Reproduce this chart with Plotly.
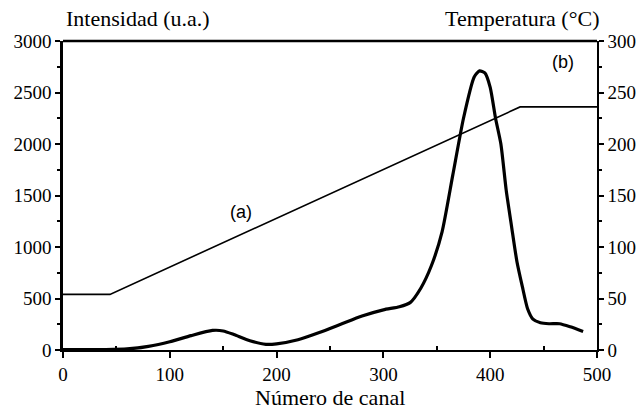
import plotly.graph_objects as go

# Intensity curve (channel number vs intensity, a.u.)
canal = [0, 20, 40, 60, 80, 100, 120, 140, 150, 160, 175, 190, 200, 220, 240, 260,
         280, 300, 315, 325, 335, 345, 355, 365, 375, 385, 390, 395, 400, 405, 410,
         415, 420, 425, 430, 435, 440, 447, 455, 465, 475, 487]
intensidad = [5, 5, 5, 10, 35, 80, 140, 190, 185, 150, 90, 55, 60, 100, 170, 250,
              330, 390, 420, 460, 600, 820, 1150, 1700, 2250, 2650, 2710, 2690, 2550, 2250, 2000,
              1550, 1200, 860, 620, 400, 300, 265, 255, 255, 225, 180]

# Temperature program (channel vs °C)
canal_temp = [0, 44, 428, 500]
temperatura = [54, 54, 236, 236]

# Annotation labels
etiquetas = ["(a)", "(b)"]
etiqueta_x = [167, 468]
etiqueta_y = [1340, 2800]

serif = "Liberation Serif"

fig = go.Figure()
fig.add_trace(go.Scatter(x=canal, y=intensidad, mode="lines",
                         line=dict(color="black", width=3.2, shape="spline", smoothing=0.6),
                         showlegend=False))
fig.add_trace(go.Scatter(x=canal_temp, y=temperatura, mode="lines", yaxis="y2",
                         line=dict(color="black", width=1.6), showlegend=False))

for t, xx, yy in zip(etiquetas, etiqueta_x, etiqueta_y):
    fig.add_annotation(x=xx, y=yy, text=t, showarrow=False,
                       font=dict(family="Liberation Sans", size=18, color="black"))

fig.add_annotation(x=0.14, y=1.074, xref="paper", yref="paper", xanchor="center",
                   yanchor="middle", text="Intensidad (u.a.)", showarrow=False,
                   font=dict(family=serif, size=22, color="black"))
fig.add_annotation(x=0.86, y=1.074, xref="paper", yref="paper", xanchor="center",
                   yanchor="middle", text="Temperatura (°C)", showarrow=False,
                   font=dict(family=serif, size=22, color="black"))
fig.add_annotation(x=0.5, y=-0.155, xref="paper", yref="paper", xanchor="center",
                   yanchor="middle", text="Número de canal", showarrow=False,
                   font=dict(family=serif, size=22, color="black"))

fig.update_layout(
    width=640, height=412,
    margin=dict(l=63, r=43, t=41, b=62),
    paper_bgcolor="white", plot_bgcolor="white",
    font=dict(family=serif, size=19, color="black"),
    xaxis=dict(range=[0, 500], tickvals=[0, 100, 200, 300, 400, 500],
               showgrid=False, zeroline=False, automargin=False,
               showline=True, linecolor="black", linewidth=2,
               ticks="outside", ticklen=6, tickwidth=2, tickcolor="black",
               minor=dict(tickvals=[50, 150, 250, 350, 450], ticks="inside", ticklen=4,
                          tickwidth=2, tickcolor="black"),
               tickfont=dict(family=serif, size=19)),
    yaxis=dict(range=[0, 3000], tickvals=[0, 500, 1000, 1500, 2000, 2500, 3000],
               showgrid=False, zeroline=False, automargin=False,
               showline=True, linecolor="black", linewidth=2.5,
               ticks="outside", ticklen=5, tickwidth=1.5, tickcolor="black",
               minor=dict(tickvals=[250, 750, 1250, 1750, 2250, 2750], ticks="outside",
                          ticklen=3, tickwidth=1.5, tickcolor="black"),
               tickfont=dict(family=serif, size=19)),
    yaxis2=dict(range=[0, 300], overlaying="y", side="right",
                tickvals=[0, 50, 100, 150, 200, 250, 300],
                showgrid=False, zeroline=False, automargin=False,
                showline=True, linecolor="black", linewidth=1.5,
                ticks="outside", ticklen=5, tickwidth=1.5, tickcolor="black",
                minor=dict(tickvals=[25, 75, 125, 175, 225, 275], ticks="outside",
                           ticklen=3, tickwidth=1.5, tickcolor="black"),
                tickfont=dict(family=serif, size=19)),
    shapes=[dict(type="line", xref="paper", yref="paper", x0=0, x1=1, y0=1, y1=1,
                 line=dict(color="black", width=2.5))],
)

fig.write_html("out.html", config={"displayModeBar": False},
               post_script="document.body.style.margin='0px';document.body.style.overflow='hidden';")
